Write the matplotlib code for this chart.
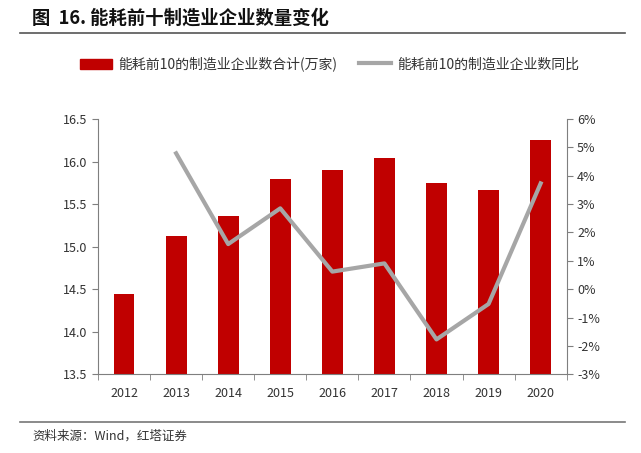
import matplotlib
matplotlib.use('Agg')
import matplotlib.pyplot as plt
from matplotlib.ticker import FuncFormatter, FixedLocator
from matplotlib.lines import Line2D
from matplotlib.patches import Patch

plt.rcParams['font.family'] = ['Noto Sans CJK SC', 'DejaVu Sans']

years = ['2012', '2013', '2014', '2015', '2016', '2017', '2018', '2019', '2020']
counts = [14.44, 15.13, 15.36, 15.80, 15.90, 16.04, 15.75, 15.66, 16.25]
yoy_years = ['2013', '2014', '2015', '2016', '2017', '2018', '2019', '2020']
yoy = [4.79, 1.59, 2.85, 0.62, 0.91, -1.77, -0.52, 3.73]

bar_label = '能耗前10的制造业企业数合计(万家)'
line_label = '能耗前10的制造业企业数同比'

red = '#c00000'
grey = '#a6a6a6'
spine_c = '#7f7f7f'

fig = plt.figure(figsize=(6.41, 4.53), dpi=100)
ax = fig.add_axes([98/641, 1-374.3/453, (566.7-98)/641, (374.3-119)/453])

x = list(range(len(years)))
ax.bar(x, counts, width=0.4, color=red, zorder=2)
ax.set_ylim(13.5, 16.5)
ax.set_yticks([13.5, 14.0, 14.5, 15.0, 15.5, 16.0, 16.5])
ax.yaxis.set_major_formatter(FuncFormatter(lambda v, p: '%.1f' % v))
ax.set_xlim(-0.5, len(years) - 0.5)
ax.set_xticks(x)
ax.set_xticklabels(years)
ax.xaxis.set_minor_locator(FixedLocator([i - 0.5 for i in range(len(years) + 1)]))
ax.tick_params(axis='x', which='major', length=0, pad=9, labelsize=9, colors='#333333')
ax.tick_params(axis='x', which='minor', length=4, color=spine_c, direction='out')
ax.tick_params(axis='y', length=4, color=spine_c, labelsize=9, labelcolor='#333333')
for s in ['top', 'right']:
    ax.spines[s].set_visible(False)
for s in ['left', 'bottom']:
    ax.spines[s].set_color(spine_c)

ax2 = ax.twinx()
ax2.plot([years.index(y) for y in yoy_years], yoy, color=grey, lw=3, zorder=3)
ax2.set_ylim(-3, 6)
ax2.set_yticks(range(-3, 7))
ax2.yaxis.set_major_formatter(FuncFormatter(lambda v, p: '%d%%' % v))
ax2.tick_params(axis='y', length=4, color=spine_c, labelsize=9, labelcolor='#333333')
for s in ['top', 'left', 'bottom']:
    ax2.spines[s].set_visible(False)
ax2.spines['right'].set_color(spine_c)

fig.text(32/641, 1-18/453, '图  16. 能耗前十制造业企业数量变化', fontsize=13.2, fontweight='bold',
         va='center', ha='left', color='#111111')
fig.add_artist(Line2D([20/641, 625/641], [1-33/453, 1-33/453], color='#555555', lw=1.2))
fig.add_artist(Line2D([20/641, 625/641], [1-422/453, 1-422/453], color='#777777', lw=1.2))
fig.text(32/641, 1-436/453, '资料来源：Wind，红塔证券', fontsize=9, va='center', ha='left',
         color='#333333')

handles = [Patch(color=red), Line2D([0], [0], color=grey, lw=3)]
fig.legend(handles, [bar_label, line_label], loc='center left',
           bbox_to_anchor=((79 - 11.6)/641, 1-64/453),
           ncol=2, frameon=False, fontsize=10, handlelength=2.3, handleheight=0.75,
           columnspacing=1.6, handletextpad=0.43, labelcolor='#333333')

fig.savefig('out.png', dpi=100)
